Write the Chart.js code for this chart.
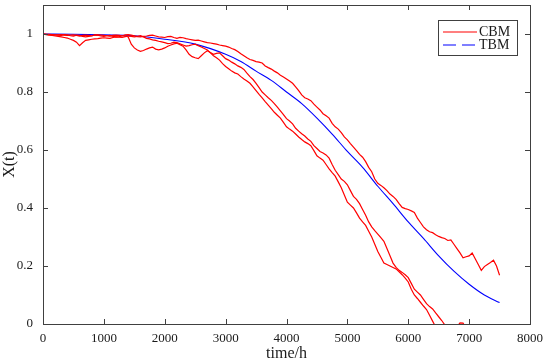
<!DOCTYPE html>
<html>
<head>
<meta charset="utf-8">
<script src="https://cdn.jsdelivr.net/npm/chart.js@4.4.1/dist/chart.umd.min.js"></script>
<style>
  html, body { margin: 0; padding: 0; background: #fff; }
  #wrap { width: 550px; height: 363px; }
</style>
</head>
<body>
<div id="wrap"><canvas id="c" width="550" height="363"></canvas></div>
<script>
// ─── Data ──────────────────────────────────────────────────────────────────

// Tick values
const xTicks = [0, 1000, 2000, 3000, 4000, 5000, 6000, 7000, 8000];
const yTicks = [0, 0.2, 0.4, 0.6, 0.8, 1];

// TBM: smooth theoretical curve
const tbmTime  = [0, 500, 1000, 1500, 2000, 2500, 3000, 3250, 3500, 3750, 4000, 4250, 4500, 4750,
                  5000, 5250, 5500, 5750, 6000, 6250, 6500, 6750, 7000, 7250, 7500];
const tbmValue = [1.0, 0.999, 0.997, 0.994, 0.982, 0.965, 0.93, 0.905, 0.872, 0.84, 0.80, 0.76, 0.71, 0.655,
                  0.595, 0.54, 0.475, 0.415, 0.352, 0.295, 0.235, 0.182, 0.137, 0.10, 0.074];

// Shared time grid of the CBM sample paths (hours, one row = 500 h)
const cbmTime = [
  0, 50, 100, 150, 200, 250, 300, 350, 400, 450,
  500, 550, 600, 650, 700, 750, 800, 850, 900, 950,
  1000, 1050, 1100, 1150, 1200, 1250, 1300, 1350, 1400, 1450,
  1500, 1550, 1600, 1650, 1700, 1750, 1800, 1850, 1900, 1950,
  2000, 2050, 2100, 2150, 2200, 2250, 2300, 2350, 2400, 2450,
  2500, 2550, 2600, 2650, 2700, 2750, 2800, 2850, 2900, 2950,
  3000, 3050, 3100, 3150, 3200, 3250, 3300, 3350, 3400, 3450,
  3500, 3550, 3600, 3650, 3700, 3750, 3800, 3850, 3900, 3950,
  4000, 4050, 4100, 4150, 4200, 4250, 4300, 4350, 4400, 4450,
  4500, 4550, 4600, 4650, 4700, 4750, 4800, 4850, 4900, 4950,
  5000, 5050, 5100, 5150, 5200, 5250, 5300, 5350, 5400, 5450,
  5500, 5550, 5600, 5650, 5700, 5750, 5800, 5850, 5900, 5950,
  6000, 6050, 6100, 6150, 6200, 6250, 6300, 6350, 6400, 6450,
  6500, 6550, 6600, 6650, 6700, 6750, 6800, 6850, 6900, 6950,
  7000, 7050, 7100, 7150, 7200, 7250, 7300, 7350, 7400, 7450,
  7500
];

// CBM path A (upper one, ends ~0.17 at 7500 h)
const cbmPathA = [
  1.0, 0.999, 0.999, 0.998, 0.997, 0.996, 0.995, 0.998, 0.997, 0.994,
  0.993, 0.996, 0.995, 0.992, 0.99, 0.992, 0.993, 0.997, 0.996, 0.993,
  0.992, 0.994, 0.995, 0.992, 0.99, 0.991, 0.993, 0.997, 0.998, 0.996,
  0.994, 0.991, 0.99, 0.992, 0.993, 0.995, 0.996, 0.993, 0.99, 0.989,
  0.988, 0.991, 0.992, 0.988, 0.985, 0.988, 0.987, 0.984, 0.982, 0.98,
  0.978, 0.979, 0.976, 0.973, 0.97, 0.969, 0.967, 0.965, 0.962, 0.96,
  0.958, 0.955, 0.95, 0.946, 0.94, 0.932, 0.925, 0.918, 0.912, 0.909,
  0.905, 0.903, 0.9, 0.89, 0.884, 0.879, 0.872, 0.866, 0.858, 0.852,
  0.845, 0.838, 0.83, 0.818, 0.805, 0.79, 0.78, 0.776, 0.77, 0.758,
  0.748, 0.738, 0.725, 0.718, 0.71, 0.692, 0.68, 0.672, 0.66, 0.645,
  0.635, 0.622, 0.61, 0.598, 0.585, 0.575, 0.56, 0.54, 0.525, 0.5,
  0.485, 0.478, 0.47, 0.46, 0.448, 0.44, 0.43, 0.415, 0.402, 0.398,
  0.395, 0.39, 0.385, 0.365, 0.35, 0.335, 0.325, 0.318, 0.315, 0.308,
  0.302, 0.298, 0.295, 0.288, 0.29, 0.275, 0.26, 0.245, 0.228, 0.232,
  0.235, 0.245, 0.225, 0.205, 0.185, 0.198, 0.205, 0.212, 0.22, 0.2,
  0.168
];

// CBM path B (drops at ~1450 h, hits zero ~6600 h)
const cbmPathB = [
  1.0, 0.999, 0.998, 0.997, 0.996, 0.997, 0.998, 0.996, 0.995, 0.996,
  0.997, 0.995, 0.993, 0.995, 0.996, 0.995, 0.994, 0.996, 0.997, 0.996,
  0.995, 0.994, 0.993, 0.995, 0.996, 0.995, 0.994, 0.993, 0.99, 0.965,
  0.952, 0.945, 0.94, 0.943, 0.948, 0.952, 0.955, 0.948, 0.945, 0.948,
  0.952, 0.958, 0.962, 0.966, 0.968, 0.963, 0.958, 0.945, 0.93, 0.922,
  0.918, 0.915, 0.925, 0.935, 0.942, 0.936, 0.93, 0.933, 0.935, 0.925,
  0.915, 0.91, 0.903, 0.897, 0.89, 0.885, 0.878, 0.865, 0.853, 0.843,
  0.83, 0.815, 0.8, 0.79, 0.78, 0.771, 0.76, 0.748, 0.735, 0.722,
  0.708, 0.7, 0.69, 0.675, 0.665, 0.656, 0.648, 0.638, 0.63, 0.615,
  0.605, 0.595, 0.59, 0.583, 0.572, 0.55, 0.53, 0.515, 0.5, 0.492,
  0.48, 0.46, 0.44, 0.43, 0.415, 0.395, 0.375, 0.352, 0.335, 0.322,
  0.31, 0.298, 0.285, 0.26, 0.235, 0.21, 0.195, 0.185, 0.178, 0.17,
  0.16, 0.14, 0.12, 0.11, 0.1, 0.085, 0.07, 0.06, 0.052, 0.038,
  0.025, 0.012, -0.003, -0.012, -0.02, -0.015, -0.01, 0.004, 0.003, -0.015,
  -0.03
];

// CBM path C (dips at ~600 h, hits zero ~6420 h)
const cbmPathC = [
  1.0, 0.998, 0.996, 0.995, 0.993, 0.992, 0.99, 0.988, 0.986, 0.982,
  0.978, 0.972, 0.96, 0.97, 0.978, 0.98, 0.982, 0.983, 0.984, 0.986,
  0.987, 0.986, 0.985, 0.988, 0.99, 0.989, 0.988, 0.991, 0.993, 0.992,
  0.99, 0.992, 0.994, 0.99, 0.985, 0.983, 0.98, 0.978, 0.975, 0.973,
  0.97, 0.967, 0.968, 0.972, 0.97, 0.966, 0.962, 0.958, 0.96, 0.963,
  0.965, 0.96, 0.955, 0.95, 0.945, 0.935, 0.925, 0.918, 0.91, 0.898,
  0.888, 0.88, 0.872, 0.866, 0.862, 0.853, 0.845, 0.838, 0.83, 0.818,
  0.805, 0.792, 0.78, 0.767, 0.755, 0.743, 0.73, 0.72, 0.71, 0.695,
  0.68, 0.672, 0.665, 0.655, 0.645, 0.636, 0.628, 0.622, 0.615, 0.598,
  0.58, 0.572, 0.565, 0.55, 0.535, 0.522, 0.51, 0.49, 0.47, 0.445,
  0.42, 0.41, 0.4, 0.383, 0.365, 0.352, 0.34, 0.32, 0.3, 0.275,
  0.25, 0.23, 0.21, 0.205, 0.2, 0.195, 0.19, 0.18, 0.17, 0.158,
  0.145, 0.12, 0.1, 0.088, 0.075, 0.062, 0.05, 0.03, 0.01, -0.01,
  -0.03
];

// ─── Helpers ───────────────────────────────────────────────────────────────

const FONT = '"Liberation Serif", "Times New Roman", serif';
const AXIS_COLOR = '#404040';
const TEXT_COLOR = '#1a1a1a';

function toPoints(times, values) {
  // values may be shorter than times (paths that end once they fall through zero)
  return values.map(function (v, i) { return { x: times[i], y: v }; });
}

function redPath(values) {
  return {
    label: 'CBM',
    data: toPoints(cbmTime, values),
    borderColor: '#ff0000',
    borderWidth: 1.2,
    pointRadius: 0,
    tension: 0,
    fill: false,
  };
}

// MATLAB-style box with inward ticks on all four sides, plus the legend
const boxPlugin = {
  id: 'matlabBox',
  afterDraw: function (chart) {
    const ctx = chart.ctx;
    const a = chart.chartArea;
    const xs = chart.scales.x;
    const ys = chart.scales.y;
    const tick = 5;

    ctx.save();
    ctx.strokeStyle = AXIS_COLOR;
    ctx.lineWidth = 1;
    ctx.strokeRect(Math.round(a.left) + 0.5, Math.round(a.top) + 0.5,
                   Math.round(a.right - a.left), Math.round(a.bottom - a.top));

    ctx.beginPath();
    xTicks.forEach(function (v) {
      const px = Math.round(xs.getPixelForValue(v)) + 0.5;
      ctx.moveTo(px, a.bottom); ctx.lineTo(px, a.bottom - tick);
      ctx.moveTo(px, a.top);    ctx.lineTo(px, a.top + tick);
    });
    yTicks.forEach(function (v) {
      const py = Math.round(ys.getPixelForValue(v)) + 0.5;
      ctx.moveTo(a.left, py);  ctx.lineTo(a.left + tick, py);
      ctx.moveTo(a.right, py); ctx.lineTo(a.right - tick, py);
    });
    ctx.stroke();

    // legend (top right, inside the axes)
    const lx = 438, ly = 20, lw = 79, lh = 35;
    ctx.fillStyle = '#fff';
    ctx.fillRect(lx, ly, lw, lh);
    ctx.strokeRect(lx + 0.5, ly + 0.5, lw, lh);

    ctx.lineWidth = 1.2;
    ctx.strokeStyle = '#ff0000';
    ctx.beginPath(); ctx.moveTo(443, 32); ctx.lineTo(477, 32); ctx.stroke();

    ctx.strokeStyle = '#0000ff';
    ctx.setLineDash([13, 6]);
    ctx.beginPath(); ctx.moveTo(443, 45); ctx.lineTo(477, 45); ctx.stroke();
    ctx.setLineDash([]);

    ctx.fillStyle = TEXT_COLOR;
    ctx.font = '14px ' + FONT;
    ctx.textBaseline = 'middle';
    ctx.fillText('CBM', 479, 32);
    ctx.fillText('TBM', 479, 45);
    ctx.restore();
  }
};

// ─── Chart ─────────────────────────────────────────────────────────────────

new Chart(document.getElementById('c'), {
  type: 'line',
  data: {
    datasets: [
      redPath(cbmPathA),
      redPath(cbmPathB),
      redPath(cbmPathC),
      {
        label: 'TBM',
        data: toPoints(tbmTime, tbmValue),
        borderColor: '#0000ff',
        borderWidth: 1.1,
        pointRadius: 0,
        cubicInterpolationMode: 'monotone',
        fill: false,
      },
    ],
  },
  options: {
    responsive: false,
    animation: false,
    events: [],
    layout: { padding: { top: 5, right: 20, left: 0, bottom: 0 } },
    plugins: {
      legend: { display: false },
      tooltip: { enabled: false },
    },
    scales: {
      x: {
        type: 'linear',
        min: 0,
        max: 8000,
        afterBuildTicks: function (s) { s.ticks = xTicks.map(function (v) { return { value: v }; }); },
        afterFit: function (s) { s.height = 39; s.paddingLeft = 0; s.paddingRight = 0; },
        grid: { display: false, drawTicks: false },
        border: { display: false },
        ticks: {
          color: TEXT_COLOR,
          font: { family: FONT, size: 13 },
          padding: 7,
          maxRotation: 0,
          callback: function (v) { return String(v); },
        },
        title: { display: true, text: 'time/h', color: TEXT_COLOR, font: { family: FONT, size: 16 }, padding: { top: -2, bottom: 0 } },
      },
      y: {
        type: 'linear',
        min: 0,
        max: 1.1,
        afterBuildTicks: function (s) { s.ticks = yTicks.map(function (v) { return { value: v }; }); },
        afterFit: function (s) { s.width = 43; s.paddingTop = 0; s.paddingBottom = 0; },
        grid: { display: false, drawTicks: false },
        border: { display: false },
        ticks: {
          color: TEXT_COLOR,
          font: { family: FONT, size: 13 },
          padding: 10,
          callback: function (v) { return String(Math.round(v * 10) / 10); },
        },
        title: { display: true, text: 'X(t)', color: TEXT_COLOR, font: { family: FONT, size: 16 }, padding: { top: 0, bottom: 2 } },
      },
    },
  },
  plugins: [boxPlugin],
});
</script>
</body>
</html>
